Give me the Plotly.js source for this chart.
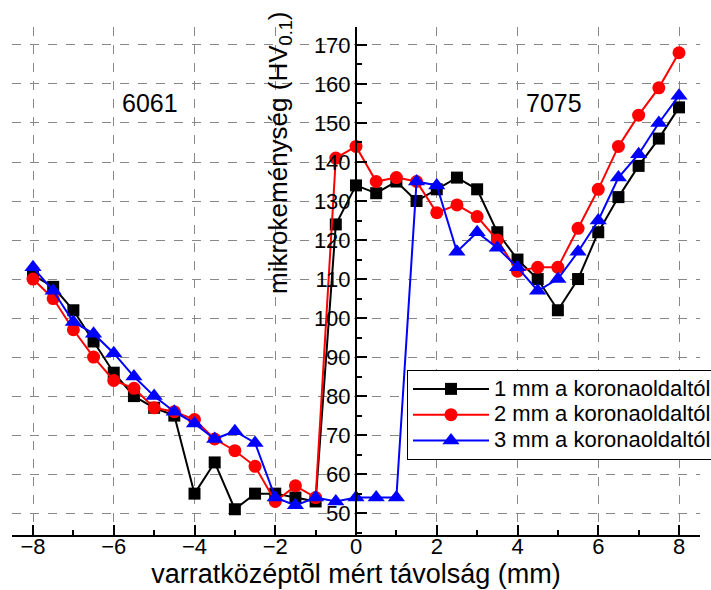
<!DOCTYPE html>
<html><head><meta charset="utf-8">
<script src="https://cdn.plot.ly/plotly-3.0.1.min.js"></script>
<style>body{margin:0;background:#fff}#c{width:711px;height:590px}</style>
</head><body><div id="c"></div>
<script>
const xPos = [-8,-7.5,-7,-6.5,-6,-5.5,-5,-4.5,-4,-3.5,-3,-2.5,-2,-1.5,-1,-0.5,0,0.5,1,1.5,2,2.5,3,3.5,4,4.5,5,5.5,6,6.5,7,7.5,8];
const hv1mm = [111,108,102,94,86,80,77,75,55,63,51,55,55,54,53,124,134,132,135,130,133,136,133,122,115,110,102,110,122,131,139,146,154];
const hv2mm = [110,105,97,90,84,82,77,76,74,69,66,62,53,57,54,141,144,135,136,135,127,129,126,120,112,113,113,123,133,144,152,159,168];
const hv3mm = [113,107,99,96,91,85,80,76,73,69,71,68,54,52,54,53,54,54,54,135,134,117,122,118,113,107,110,117,125,136,142,150,157];
const seriesNames = ['1 mm a koronaoldaltól','2 mm a koronaoldaltól','3 mm a koronaoldaltól'];
const xTitle = 'varratközéptõl mért távolság (mm)';
const yTitle = 'mikrokeménység (HV<sub>0.1</sub>)';
const alloyLabels = ['6061','7075'];

const F = 'Liberation Sans, Arial, sans-serif';
function tr(y, name, color, symbol, size){
  return {x:xPos, y:y, name:'<span style="font-size:22px">'+name+'</span>', type:'scatter', mode:'lines+markers',
    line:{color:color, width:2}, marker:{color:color, symbol:symbol, size:size}};
}
const data = [
  tr(hv1mm, seriesNames[0], '#000000', 'square', 12),
  tr(hv2mm, seriesNames[1], '#ff0000', 'circle', 13),
  tr(hv3mm, seriesNames[2], '#0000ff', 'triangle-up', 15)
];
const layout = {
  width:711, height:590,
  margin:{l:12, r:11, t:27, b:55, autoexpand:false},
  paper_bgcolor:'#fff', plot_bgcolor:'#fff',
  font:{family:F, color:'#000', size:22},
  showlegend:true,
  legend:{x:(407-12)/688, y:(535-370)/508, xanchor:'left', yanchor:'top', bgcolor:'#fff',
    bordercolor:'#000', borderwidth:1, font:{family:F, size:17.5, color:'#000'},
    tracegroupgap:0, itemwidth:76},
  xaxis:{range:[-8.52,8.52], dtick:2, tick0:0, ticks:'inside', ticklen:10, tickwidth:2,
    tickcolor:'#000', showline:true, linecolor:'#000', linewidth:2, zeroline:false,
    showgrid:true, gridcolor:'#888', griddash:'dash', gridwidth:1, ticklabelstandoff:-9,
    tickfont:{family:F, size:22, color:'#000'},
    minor:{dtick:1, tick0:0, ticks:'inside', ticklen:5, tickwidth:2, tickcolor:'#000', showgrid:false},
    title:{text:xTitle, font:{family:F, size:27, color:'#000'}, standoff:0}},
  yaxis:{range:[44.4,174.6], dtick:10, tick0:0, ticks:'inside', ticklen:10, tickwidth:2,
    tickcolor:'#000', showline:true, linecolor:'#000', linewidth:2, zeroline:false,
    anchor:'free', position:0.5, side:'left',
    showgrid:true, gridcolor:'#888', griddash:'dash', gridwidth:1,
    tickfont:{family:F, size:22, color:'#000'},
    minor:{dtick:5, tick0:0, ticks:'inside', ticklen:5, tickwidth:2, tickcolor:'#000', showgrid:false}},
  annotations:[
    {text:yTitle, xref:'paper', yref:'paper', x:(279-12)/688, y:(535-153)/508,
     xanchor:'center', yanchor:'middle',
     showarrow:false, textangle:-90, font:{family:F, size:26, color:'#000'}},
    {text:alloyLabels[0], xref:'x', yref:'y', x:-5.1, y:155, showarrow:false,
     xanchor:'center', yanchor:'middle', font:{family:F, size:25, color:'#000'}},
    {text:alloyLabels[1], xref:'x', yref:'y', x:4.9, y:155, showarrow:false,
     xanchor:'center', yanchor:'middle', font:{family:F, size:25, color:'#000'}}
  ]
};
Plotly.newPlot('c', data, layout, {displayModeBar:false, staticPlot:true});
</script></body></html>
